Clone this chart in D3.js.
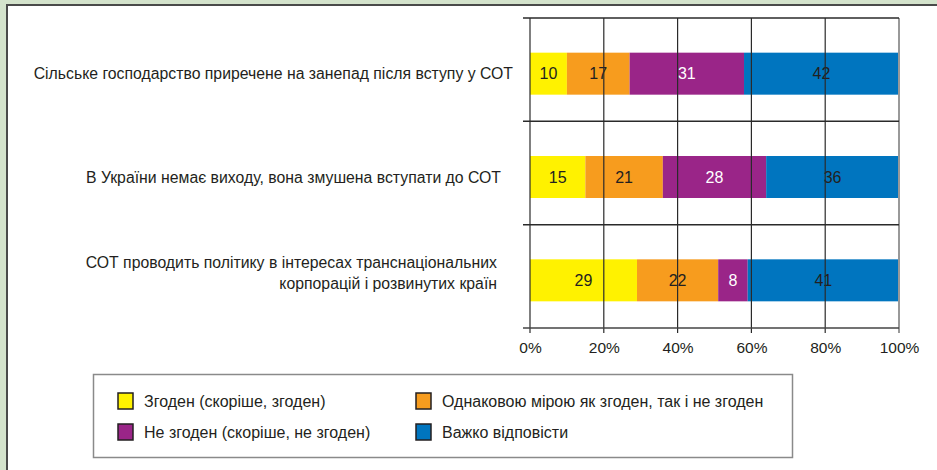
<!DOCTYPE html>
<html><head><meta charset="utf-8">
<script src="https://cdn.jsdelivr.net/npm/d3@7"></script>
<style>
html,body{margin:0;padding:0;background:#d4e2cc;}
svg{display:block;font-family:"Liberation Sans",Arial,sans-serif;}
</style></head>
<body>
<svg id="c" width="937" height="470"></svg>
<script>
const categories = [
  ["Сільське господарство приречене на занепад після вступу у СОТ"],
  ["В України немає виходу, вона змушена вступати до СОТ"],
  ["СОТ проводить політику в інтересах транснаціональних", "корпорацій і розвинутих країн"]
];
const seriesNames = ["Згоден (скоріше, згоден)", "Однаковою мірою як згоден, так і не згоден", "Не згоден (скоріше, не згоден)", "Важко відповісти"];
const agree = [10, 15, 29];
const neutral = [17, 21, 22];
const disagree = [31, 28, 8];
const hard = [42, 36, 41];
const tickLabels = ["0%", "20%", "40%", "60%", "80%", "100%"];
const colors = ["#fff200", "#f79c1e", "#9a2588", "#0075bf"];
const textColors = ["#231f20", "#231f20", "#ffffff", "#231f20"];

const svg = d3.select("#c");
// panel
svg.append("rect").attr("x",0).attr("y",0).attr("width",937).attr("height",470).attr("fill","#d4e3cc");
svg.append("rect").attr("x",8).attr("y",5).attr("width",929).attr("height",465).attr("fill","#fff");
svg.append("line").attr("x1",7).attr("x2",7).attr("y1",4).attr("y2",470).attr("stroke","#4a4a4a").attr("stroke-width",2);
svg.append("line").attr("x1",6).attr("x2",937).attr("y1",5).attr("y2",5).attr("stroke","#4a4a4a").attr("stroke-width",2);

const x = d3.scaleLinear().domain([0,100]).range([530,899]);
const idx = d3.range(categories.length);
const y = d3.scaleBand().domain(idx).range([18,328]).padding(0);
const barH = 42, barOff = 4;

const data = idx.map(i => [agree[i], neutral[i], disagree[i], hard[i]]);
const stacked = data.map(row => { let c = 0; return row.map((v,k) => { const s = {x0:c, x1:c+v, v, k}; c += v; return s; }); });

const g = svg.append("g");
idx.forEach(i => {
  const yc = y(i) + y.bandwidth()/2 + barOff;
  g.selectAll(null).data(stacked[i]).enter().append("rect")
    .attr("x", d => x(d.x0)).attr("width", d => x(d.x1)-x(d.x0))
    .attr("y", yc - barH/2).attr("height", barH)
    .attr("fill", d => colors[d.k]);
});

// gridlines (drawn over bars)
const ticks = [0,20,40,60,80,100];
svg.selectAll(null).data(ticks).enter().append("line")
  .attr("x1", d => x(d)).attr("x2", d => x(d))
  .attr("y1", 18).attr("y2", 333)
  .attr("stroke", d => d===100 ? "#999" : "#2a2a2a")
  .attr("stroke-width", d => d===100 ? 2 : 1.2);
svg.append("line").attr("x1",523).attr("x2",899).attr("y1",18).attr("y2",18).attr("stroke","#2a2a2a").attr("stroke-width",1.5);
[1,2].forEach(i => svg.append("line").attr("x1",523).attr("x2",899).attr("y1",y(i)).attr("y2",y(i)).attr("stroke","#2a2a2a").attr("stroke-width",1.5));
svg.append("line").attr("x1",523).attr("x2",899).attr("y1",328).attr("y2",328).attr("stroke","#444").attr("stroke-width",1.5);

// x axis labels via d3 axis
const ax = svg.append("g").attr("transform","translate(0,328)")
  .call(d3.axisBottom(x).tickValues(ticks).tickSize(0).tickPadding(14).tickFormat((d,i)=>tickLabels[i]));
ax.select(".domain").remove();
ax.selectAll("text").attr("font-size",15.5).attr("fill","#231f20").attr("font-family","Liberation Sans, Arial, sans-serif");

// value labels
idx.forEach(i => {
  const yc = y(i) + y.bandwidth()/2 + barOff;
  g.selectAll(null).data(stacked[i]).enter().append("text")
    .attr("x", d => (x(d.x0)+x(d.x1))/2).attr("y", yc).attr("dy","0.36em")
    .attr("text-anchor","middle").attr("font-size",16)
    .attr("fill", d => textColors[d.k]).text(d => d.v);
});

// category labels
const labelRight = [513, 501, 497];
const labelShift = [0, 0, -8];
idx.forEach(i => {
  const lines = categories[i];
  const yc = y(i) + y.bandwidth()/2 + barOff + labelShift[i];
  lines.forEach((t,j) => {
    svg.append("text").attr("x", labelRight[i]).attr("y", yc + (j - (lines.length-1)/2)*21)
      .attr("dy","0.36em").attr("text-anchor","end").attr("font-size",15.8).attr("fill","#231f20").text(t);
  });
});

// legend
svg.append("rect").attr("x",93.5).attr("y",374.5).attr("width",699).attr("height",83)
  .attr("fill","#fff").attr("stroke","#8a8a8a").attr("stroke-width",1.5);
const lx = [118, 416], ly = [401, 432];
seriesNames.forEach((s,k) => {
  const cx = lx[k%2], cy = ly[Math.floor(k/2)];
  svg.append("rect").attr("x",cx).attr("y",cy-8).attr("width",15).attr("height",16)
    .attr("fill",colors[k]).attr("stroke","#231f20").attr("stroke-width",1.5);
  svg.append("text").attr("x",cx+26).attr("y",cy).attr("dy","0.36em").attr("font-size",16)
    .attr("fill","#231f20").text(s);
});
</script>
</body></html>
